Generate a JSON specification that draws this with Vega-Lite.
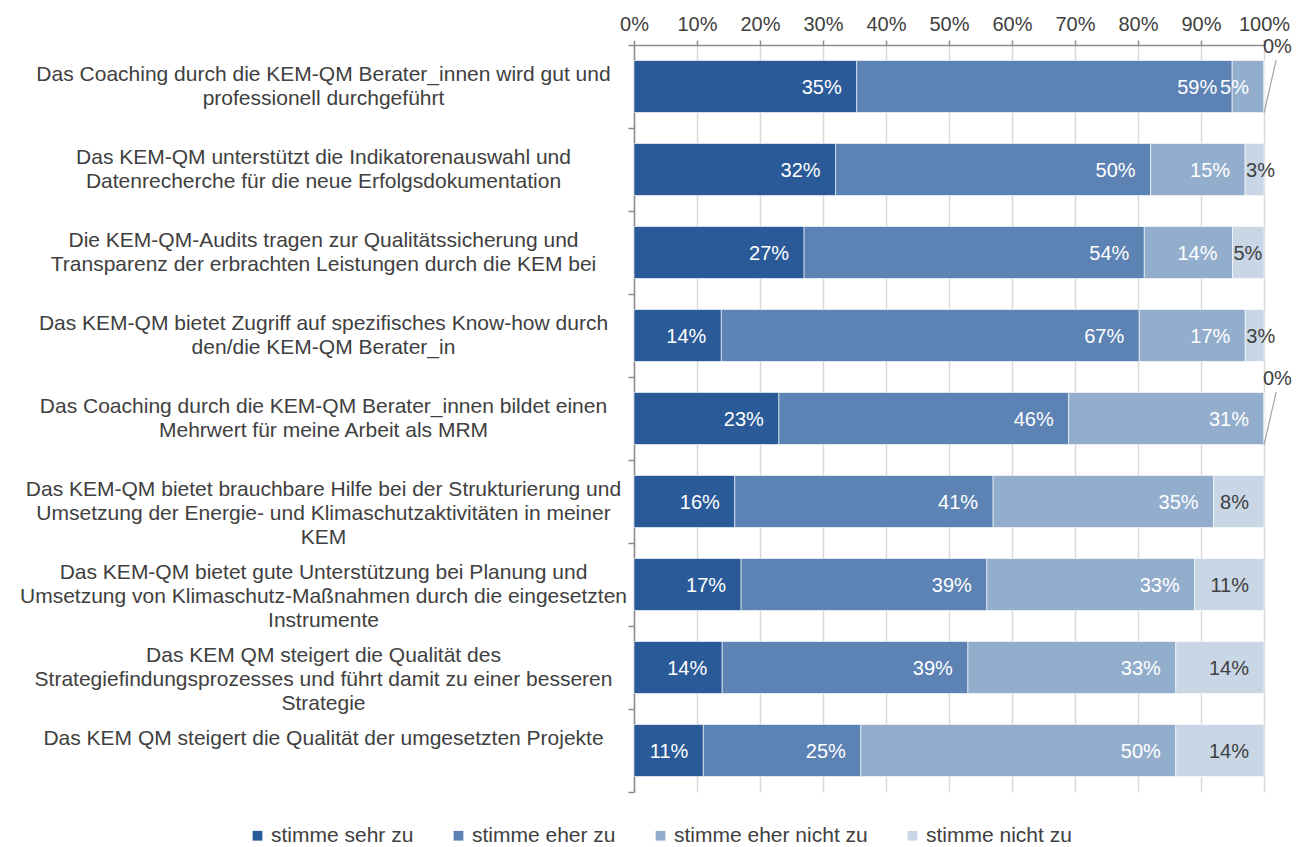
{
  "$schema": "https://vega.github.io/schema/vega-lite/v6.json",
  "width": 630,
  "height": 747,
  "autosize": {"type": "none"},
  "padding": {"left": 634, "top": 45, "right": 44, "bottom": 55},
  "background": "white",
  "config": {
    "font": "Liberation Sans",
    "view": {"stroke": null}
  },
  "data": {
    "values": [
      {"Frage": "Das Coaching durch die KEM-QM Berater_innen wird gut und\nprofessionell durchgeführt", "stimme sehr zu": 0.35, "stimme eher zu": 0.59, "stimme eher nicht zu": 0.05, "stimme nicht zu": 0.0},
      {"Frage": "Das KEM-QM unterstützt die Indikatorenauswahl und\nDatenrecherche für die neue Erfolgsdokumentation", "stimme sehr zu": 0.32, "stimme eher zu": 0.50, "stimme eher nicht zu": 0.15, "stimme nicht zu": 0.03},
      {"Frage": "Die KEM-QM-Audits tragen zur Qualitätssicherung und\nTransparenz der erbrachten Leistungen durch die KEM bei", "stimme sehr zu": 0.27, "stimme eher zu": 0.54, "stimme eher nicht zu": 0.14, "stimme nicht zu": 0.05},
      {"Frage": "Das KEM-QM bietet Zugriff auf spezifisches Know-how durch\nden/die KEM-QM Berater_in", "stimme sehr zu": 0.14, "stimme eher zu": 0.67, "stimme eher nicht zu": 0.17, "stimme nicht zu": 0.03},
      {"Frage": "Das Coaching durch die KEM-QM Berater_innen bildet einen\nMehrwert für meine Arbeit als MRM", "stimme sehr zu": 0.23, "stimme eher zu": 0.46, "stimme eher nicht zu": 0.31, "stimme nicht zu": 0.0},
      {"Frage": "Das KEM-QM bietet brauchbare Hilfe bei der Strukturierung und\nUmsetzung der Energie- und Klimaschutzaktivitäten in meiner\nKEM", "stimme sehr zu": 0.16, "stimme eher zu": 0.41, "stimme eher nicht zu": 0.35, "stimme nicht zu": 0.08},
      {"Frage": "Das KEM-QM bietet gute Unterstützung bei Planung und\nUmsetzung von Klimaschutz-Maßnahmen durch die eingesetzten\nInstrumente", "stimme sehr zu": 0.17, "stimme eher zu": 0.39, "stimme eher nicht zu": 0.33, "stimme nicht zu": 0.11},
      {"Frage": "Das KEM QM steigert die Qualität des\nStrategiefindungsprozesses und führt damit zu einer besseren\nStrategie", "stimme sehr zu": 0.14, "stimme eher zu": 0.39, "stimme eher nicht zu": 0.33, "stimme nicht zu": 0.14},
      {"Frage": "Das KEM QM steigert die Qualität der umgesetzten Projekte", "stimme sehr zu": 0.11, "stimme eher zu": 0.25, "stimme eher nicht zu": 0.50, "stimme nicht zu": 0.14}
    ]
  },
  "transform": [
    {"fold": ["stimme sehr zu", "stimme eher zu", "stimme eher nicht zu", "stimme nicht zu"], "as": ["Antwort", "Anteil"]},
    {"calculate": "indexof(['stimme sehr zu', 'stimme eher zu', 'stimme eher nicht zu', 'stimme nicht zu'], datum.Antwort)", "as": "rang"},
    {"stack": "Anteil", "groupby": ["Frage"], "sort": [{"field": "rang", "order": "ascending"}], "offset": "normalize", "as": ["x0", "x1"]}
  ],
  "encoding": {
    "y": {
      "field": "Frage",
      "type": "nominal",
      "sort": null,
      "scale": {"paddingInner": 0, "paddingOuter": 0},
      "axis": {
        "title": null,
        "orient": "left",
        "labelExpr": "split(datum.label, '\\n')",
        "labelAlign": "center",
        "labelBaseline": "middle",
        "labelPadding": 305,
        "labelOffset": -12,
        "labelLimit": 0,
        "labelFontSize": 21,
        "labelLineHeight": 24,
        "labelColor": "#404040",
        "domainColor": "#8c8c8c",
        "domainWidth": 1.5,
        "tickColor": "#8c8c8c",
        "tickWidth": 1.5,
        "tickSize": 6,
        "tickBand": "extent",
        "grid": false
      }
    }
  },
  "layer": [
    {
      "mark": {"type": "bar", "stroke": "white", "strokeWidth": 0.6, "height": 52},
      "encoding": {
        "x": {
          "field": "x0",
          "type": "quantitative",
          "scale": {"domain": [0, 1], "nice": false, "zero": true},
          "axis": {
            "orient": "top",
            "title": null,
            "format": ".0%",
            "values": [0, 0.1, 0.2, 0.3, 0.4, 0.5, 0.6, 0.7, 0.8, 0.9, 1],
            "labelFlush": false,
            "labelOverlap": false,
            "labelFontSize": 20,
            "labelColor": "#404040",
            "labelPadding": 6,
            "grid": true,
            "gridColor": "#d9d9d9",
            "gridWidth": 1.5,
            "domainColor": "#8c8c8c",
            "domainWidth": 1.5,
            "tickColor": "#8c8c8c",
            "tickWidth": 1.5,
            "tickSize": 5
          }
        },
        "x2": {"field": "x1"},
        "color": {
          "field": "Antwort",
          "type": "nominal",
          "scale": {
            "domain": ["stimme sehr zu", "stimme eher zu", "stimme eher nicht zu", "stimme nicht zu"],
            "range": ["#2a5a98", "#5d82b4", "#93aecd", "#c9d6e6"]
          },
          "legend": {
            "title": null,
            "orient": "none",
            "direction": "horizontal",
            "columns": 4,
            "legendX": -387,
            "legendY": 780,
            "symbolType": "square",
            "symbolSize": 95,
            "symbolStrokeWidth": 0,
            "labelFontSize": 21,
            "labelColor": "#404040",
            "labelOffset": 3,
            "labelLimit": 0,
            "columnPadding": 34
          }
        }
      }
    },
    {
      "transform": [{"filter": "datum.Anteil > 0 && !(datum.Antwort == 'stimme nicht zu' && datum.Anteil < 0.06)"}],
      "mark": {"type": "text", "align": "right", "baseline": "middle", "dx": -15, "dy": 1, "fontSize": 20},
      "encoding": {
        "x": {"field": "x1", "type": "quantitative"},
        "text": {"field": "Anteil", "type": "quantitative", "format": ".0%"},
        "color": {"condition": {"test": "datum.Antwort == 'stimme nicht zu'", "value": "#404040"}, "value": "#ffffff"}
      }
    },
    {
      "transform": [{"filter": "datum.Antwort == 'stimme nicht zu' && datum.Anteil > 0 && datum.Anteil < 0.06"}],
      "mark": {"type": "text", "align": "left", "baseline": "middle", "dx": 1, "dy": 1, "fontSize": 20, "color": "#404040"},
      "encoding": {
        "x": {"field": "x0", "type": "quantitative"},
        "text": {"field": "Anteil", "type": "quantitative", "format": ".0%"}
      }
    },
    {
      "transform": [{"filter": "datum.Anteil == 0"}],
      "mark": {"type": "text", "align": "left", "baseline": "middle", "dx": -1, "dy": -40, "fontSize": 20, "color": "#404040"},
      "encoding": {
        "x": {"field": "x1", "type": "quantitative"},
        "text": {"field": "Anteil", "type": "quantitative", "format": ".0%"}
      }
    },
    {
      "transform": [{"filter": "datum.Anteil == 0"}],
      "mark": {"type": "point", "shape": "M0,0.5L0.23,-0.5", "filled": false, "stroke": "#a6a6a6", "strokeWidth": 1.2, "opacity": 1, "size": 11236},
      "encoding": {
        "x": {"field": "x1", "type": "quantitative"}
      }
    }
  ]
}
